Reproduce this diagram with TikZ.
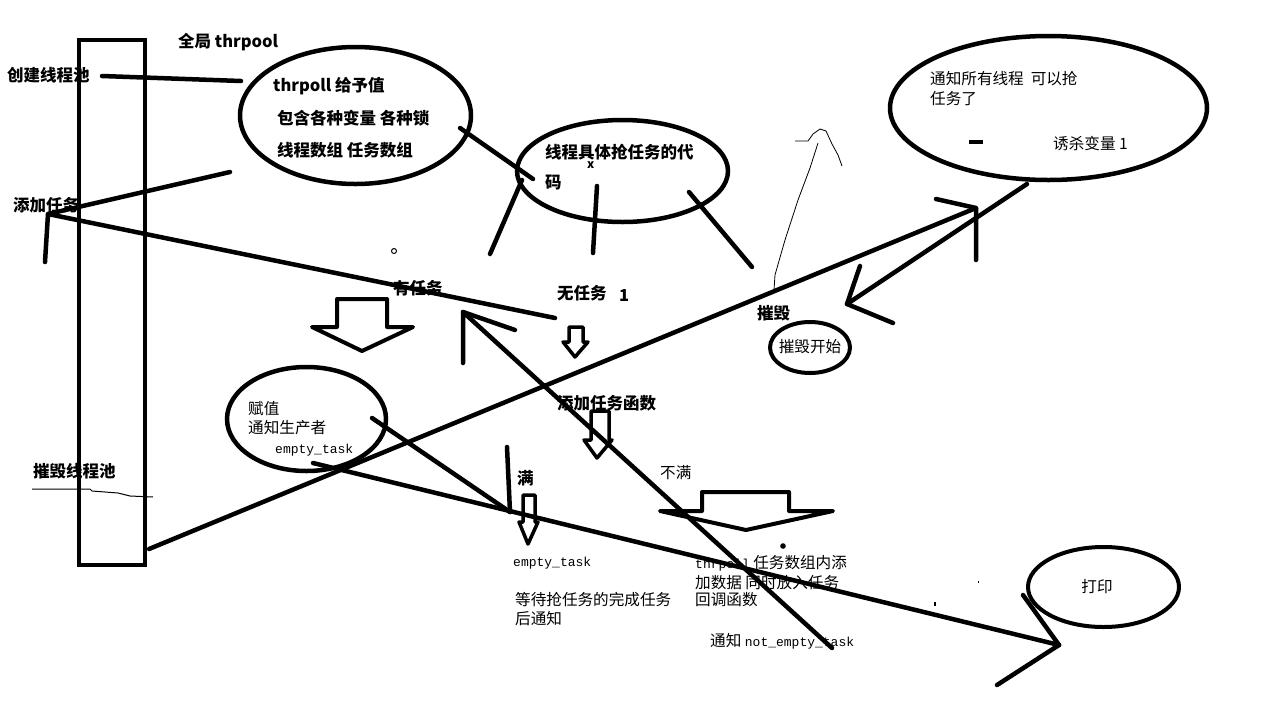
\documentclass[tikz,border=0pt]{standalone}
\usepackage{fontspec}
\newfontfamily\cjk{Noto Sans CJK SC}
\newfontfamily\monof{Liberation Mono}
\usetikzlibrary{shapes.geometric}
\newcommand{\mt}[1]{{\monof\fontsize{13}{15}\selectfont #1}}
\begin{document}
\begin{tikzpicture}[x=1pt,y=-1pt,
  ln/.style={line width=4.5pt,line cap=round,line join=round},
  ell/.style={draw,ellipse,inner sep=0pt,line width=4.5pt},
  hollow/.style={line width=4pt,line join=round,line cap=round},
  bl/.style={font=\cjk\bfseries\fontsize{16.5}{18}\selectfont,inner sep=0pt,anchor=west},
  th/.style={font=\cjk\fontsize{15.6}{17}\selectfont,inner sep=0pt,anchor=west},
  thinln/.style={line width=0.8pt,line join=round}]
\useasboundingbox[fill=white] (0,0) rectangle (1272,705);

% tall rectangle
\node[draw,line width=4.5pt,minimum width=66pt,minimum height=525pt,inner sep=0pt] (bar) at (112,302.5) {};

% ellipses
\node[ell,minimum width=231pt,minimum height=137pt] (e1) at (355.5,115.5) {};
\node[ell,minimum width=211pt,minimum height=102pt] (e2) at (622.5,171) {};
\node[ell,minimum width=317pt,minimum height=144pt] (e3) at (1048.5,108) {};
\node[ell,line width=4pt,minimum width=80pt,minimum height=51pt] (e4) at (810,347.5) {};
\node[ell,minimum width=159pt,minimum height=104pt] (e5) at (306.5,419) {};
\node[ell,line width=4pt,minimum width=151pt,minimum height=80pt] (e6) at (1103.5,587) {};

% bold labels
\node[bl] (t1) at (178,42) {全局 thrpool};
\node[bl] (t2) at (7,75) {创建线程池};
\node[bl] (t3) at (273,86) {thrpoll 给予值};
\node[bl] (t4) at (277,118) {包含各种变量 各种锁};
\node[bl] (t5) at (277,150) {线程数组 任务数组};
\node[bl] (t6) at (13,205) {添加任务};
\node[bl] (t7) at (545,152) {线程具体抢任务的代};
\node[bl] (t8) at (545,183) {码};
\node[bl,font=\cjk\bfseries\fontsize{12}{14}\selectfont] (t9) at (587,165) {x};
\node[bl] (t10) at (393,288) {有任务};
\node[bl] (t11) at (557,293) {无任务};
\node[bl] (t12) at (619,296) {1};
\node[bl] (t13) at (757,313) {摧毁};
\node[bl] (t14) at (557,403) {添加任务函数};
\node[bl] (t15) at (517,478) {满};
\node[bl] (t16) at (33,471) {摧毁线程池};

% thin labels
\node[th] (s1) at (930,79) {通知所有线程\ \ 可以抢};
\node[th] (s2) at (930,99) {任务了};
\node[th] (s3) at (1053,144) {诱杀变量 1};
\node[th,anchor=center] (s4) at (810,347) {摧毁开始};
\node[th] (s5) at (248,409) {赋值};
\node[th] (s6) at (248,428) {通知生产者};
\node[th] (s7) at (275,450) {\mt{empty\_task}};
\node[th] (s8) at (660,473) {不满};
\node[th] (s9) at (513,563) {\mt{empty\_task}};
\node[th] (s10) at (515,600) {等待抢任务的完成任务};
\node[th] (s11) at (515,619) {后通知};
\node[th] (s12) at (695,563) {\mt{thrpoll} 任务数组内添};
\node[th] (s13) at (695,583) {加数据 同时放入任务};
\node[th] (s14) at (695,600) {回调函数};
\node[th] (s15) at (710,641) {通知 \mt{not\_empty\_task}};
\node[th,anchor=center] (s16) at (1097,587) {打印};

% coordinates
\coordinate (a1) at (102,76); \coordinate (a2) at (241,81);
\coordinate (b1) at (460,128); \coordinate (b2) at (533,179);
\coordinate (c1) at (490,254); \coordinate (c2) at (522,180);
\coordinate (d1) at (597,186); \coordinate (d2) at (593,253);
\coordinate (q1) at (689,192); \coordinate (q2) at (752,267);
\coordinate (hub) at (48,214); \coordinate (f1) at (230,172);
\coordinate (f2) at (45,262); \coordinate (f3) at (555,318);
\coordinate (gt) at (463,312); \coordinate (ge) at (832,648);
\coordinate (g1) at (463,363); \coordinate (g2) at (515,330);
\coordinate (hs) at (1027,184); \coordinate (ht) at (847,304);
\coordinate (h1) at (860,266); \coordinate (h2) at (893,323);
\coordinate (ks) at (149,549); \coordinate (kt) at (976,208);
\coordinate (k1) at (936,199); \coordinate (k2) at (976,260);
\coordinate (m1) at (372,418); \coordinate (m2) at (507,447); \coordinate (mt) at (510,512);
\coordinate (ns) at (313,463); \coordinate (nt) at (1059,645);
\coordinate (n1) at (1023,595); \coordinate (n2) at (997,685);

% connectors
\draw[ln] (a1) -- (a2);
\draw[ln] (b1) -- (b2);
\draw[ln] (c1) -- (c2);
\draw[ln] (d1) -- (d2);
\draw[ln] (q1) -- (q2);
\draw[ln] (f1) -- (hub) -- (f3);
\draw[ln] (hub) -- (f2);
\draw[ln] (ge) -- (gt);
\draw[ln] (g1) -- (gt) -- (g2);
\draw[ln] (hs) -- (ht);
\draw[ln] (h1) -- (ht) -- (h2);
\draw[ln] (ks) -- (kt);
\draw[ln] (k1) -- (kt) -- (k2);
\draw[ln] (m1) -- (mt);
\draw[ln] (m2) -- (mt);
\draw[ln] (ns) -- (nt);
\draw[ln] (n1) -- (nt);
\draw[ln] (n2) -- (nt);

% hollow arrows
\draw[hollow] (337,299) -- (387,299) -- (387,327) -- (413,327) -- (362,351) -- (312,327) -- (337,327) -- cycle;
\draw[hollow,line width=3.5pt] (569,327) -- (583,327) -- (583,342) -- (588,342) -- (575,357) -- (563,342) -- (569,342) -- cycle;
\draw[hollow,line width=3.5pt] (591,411) -- (609,411) -- (609,440) -- (612,440) -- (597,458) -- (584,440) -- (591,440) -- cycle;
\draw[hollow,line width=3.5pt] (523,495) -- (535,495) -- (535,522) -- (538,522) -- (528,544) -- (519,522) -- (523,522) -- cycle;
\draw[hollow] (702,492) -- (789,492) -- (789,511) -- (833,511) -- (746,530) -- (660,511) -- (702,511) -- cycle;

% thin strokes
\draw[thinln] (774,290) -- (775,275) -- (785,240) -- (798,200) -- (810,168) -- (818,143);
\draw[thinln] (795,141) -- (808,141) -- (813,134) -- (820,129) -- (826,131) -- (832,144) -- (838,155) -- (842,166);
\draw[line width=1pt] (32,489) -- (90,489) -- (92,491) -- (118,493) -- (130,496) -- (153,497);

% small marks
\draw[line width=1pt] (394,251) circle (2.5pt);
\fill (783,546) circle (2.8pt);
\draw[line width=4pt] (969,142) -- (983,142);
\fill (934,602) rectangle (936,606);
\fill (978,581) rectangle (979,583);
\end{tikzpicture}
\end{document}
